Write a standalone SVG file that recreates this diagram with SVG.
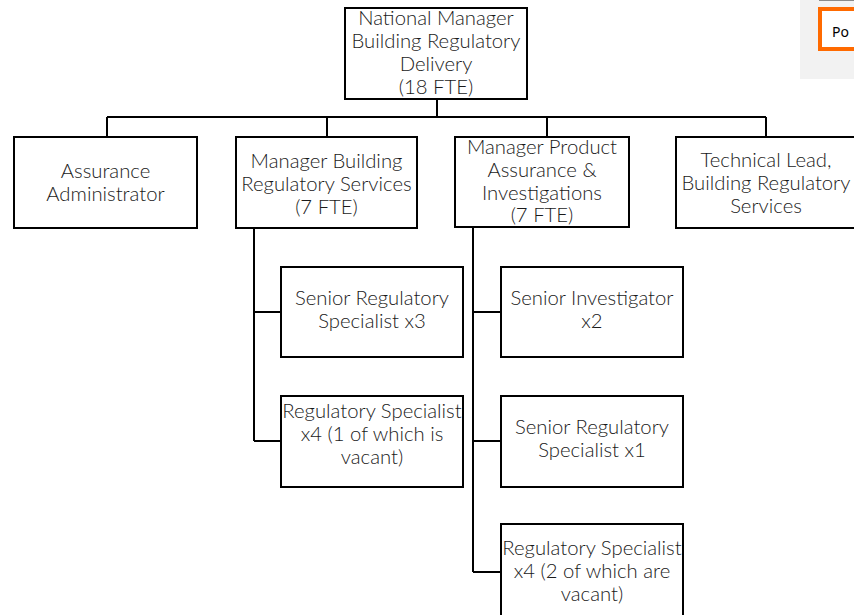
<svg xmlns="http://www.w3.org/2000/svg" width="854" height="615" viewBox="0 0 854 615">
  <style>
    .box { fill: #ffffff; stroke: #000000; stroke-width: 2; }
    .lbl { font-family: Lato, "Liberation Sans", sans-serif; font-weight: 300; font-size: 20.3px; fill: #1a1a1a; text-anchor: middle; }
    .wire { fill: none; stroke: #000000; stroke-width: 2; }
  </style>
  <rect width="854" height="615" fill="#ffffff"/>

  <!-- legend panel, top right -->
  <g id="legend">
    <rect x="800" y="0" width="54" height="79" fill="#f2f2f2"/>
    <line x1="819" y1="0.5" x2="854" y2="0.5" stroke="#8a8a8a" stroke-width="1"/>
    <rect x="820" y="9" width="40" height="40" fill="#ffffff" stroke="#ff6a00" stroke-width="4"/>
    <text x="832" y="37" font-family="'Noto Sans', 'Liberation Sans', sans-serif" font-size="14" fill="#000000">Po</text>
  </g>

  <!-- reporting lines -->
  <g id="connectors">
    <path class="wire" d="M437 99 V117 M107 117 H766 M107 117 V137 M327 117 V137 M547 117 V137 M766 117 V137"/>
    <path class="wire" d="M254 228 V441 M254 312 H281 M254 441 H281"/>
    <path class="wire" d="M473 227 V572 M473 312 H501 M473 441 H501 M473 572 H501"/>
  </g>

  <g id="national-manager">
    <rect class="box" x="345" y="8" width="182" height="91"/>
    <text class="lbl" x="436" y="25">National Manager</text>
    <text class="lbl" x="436" y="48">Building Regulatory</text>
    <text class="lbl" x="436" y="71">Delivery</text>
    <text class="lbl" x="436" y="94">(18 FTE)</text>
  </g>

  <g id="assurance-administrator">
    <rect class="box" x="14" y="137" width="183" height="91"/>
    <text class="lbl" x="105.5" y="178">Assurance</text>
    <text class="lbl" x="105.5" y="201">Administrator</text>
  </g>

  <g id="manager-brs">
    <rect class="box" x="236" y="137" width="181" height="91"/>
    <text class="lbl" x="326.5" y="168">Manager Building</text>
    <text class="lbl" x="326.5" y="191">Regulatory Services</text>
    <text class="lbl" x="326.5" y="214">(7 FTE)</text>
  </g>

  <g id="manager-pai">
    <rect class="box" x="455" y="137" width="174" height="90"/>
    <text class="lbl" x="542" y="154">Manager Product</text>
    <text class="lbl" x="542" y="177">Assurance &amp;</text>
    <text class="lbl" x="542" y="200">Investigations</text>
    <text class="lbl" x="542" y="222">(7 FTE)</text>
  </g>

  <g id="technical-lead">
    <rect class="box" x="676" y="137" width="181" height="91"/>
    <text class="lbl" x="766" y="167">Technical Lead,</text>
    <text class="lbl" x="766" y="190">Building Regulatory</text>
    <text class="lbl" x="766" y="213">Services</text>
  </g>

  <g id="senior-reg-specialist-x3">
    <rect class="box" x="281" y="267" width="182" height="90"/>
    <text class="lbl" x="372" y="305">Senior Regulatory</text>
    <text class="lbl" x="372" y="328">Specialist x3</text>
  </g>

  <g id="reg-specialist-x4-a">
    <rect class="box" x="281" y="396" width="182" height="91"/>
    <text class="lbl" x="372" y="418">Regulatory Specialist</text>
    <text class="lbl" x="372" y="441">x4 (1 of which is</text>
    <text class="lbl" x="372" y="464">vacant)</text>
  </g>

  <g id="senior-investigator-x2">
    <rect class="box" x="501" y="267" width="182" height="90"/>
    <text class="lbl" x="592" y="305">Senior Investigator</text>
    <text class="lbl" x="592" y="328">x2</text>
  </g>

  <g id="senior-reg-specialist-x1">
    <rect class="box" x="501" y="396" width="182" height="91"/>
    <text class="lbl" x="592" y="434">Senior Regulatory</text>
    <text class="lbl" x="592" y="457">Specialist x1</text>
  </g>

  <g id="reg-specialist-x4-b">
    <rect class="box" x="501" y="524" width="182" height="100"/>
    <text class="lbl" x="592" y="555">Regulatory Specialist</text>
    <text class="lbl" x="592" y="578">x4 (2 of which are</text>
    <text class="lbl" x="592" y="601">vacant)</text>
  </g>
</svg>
